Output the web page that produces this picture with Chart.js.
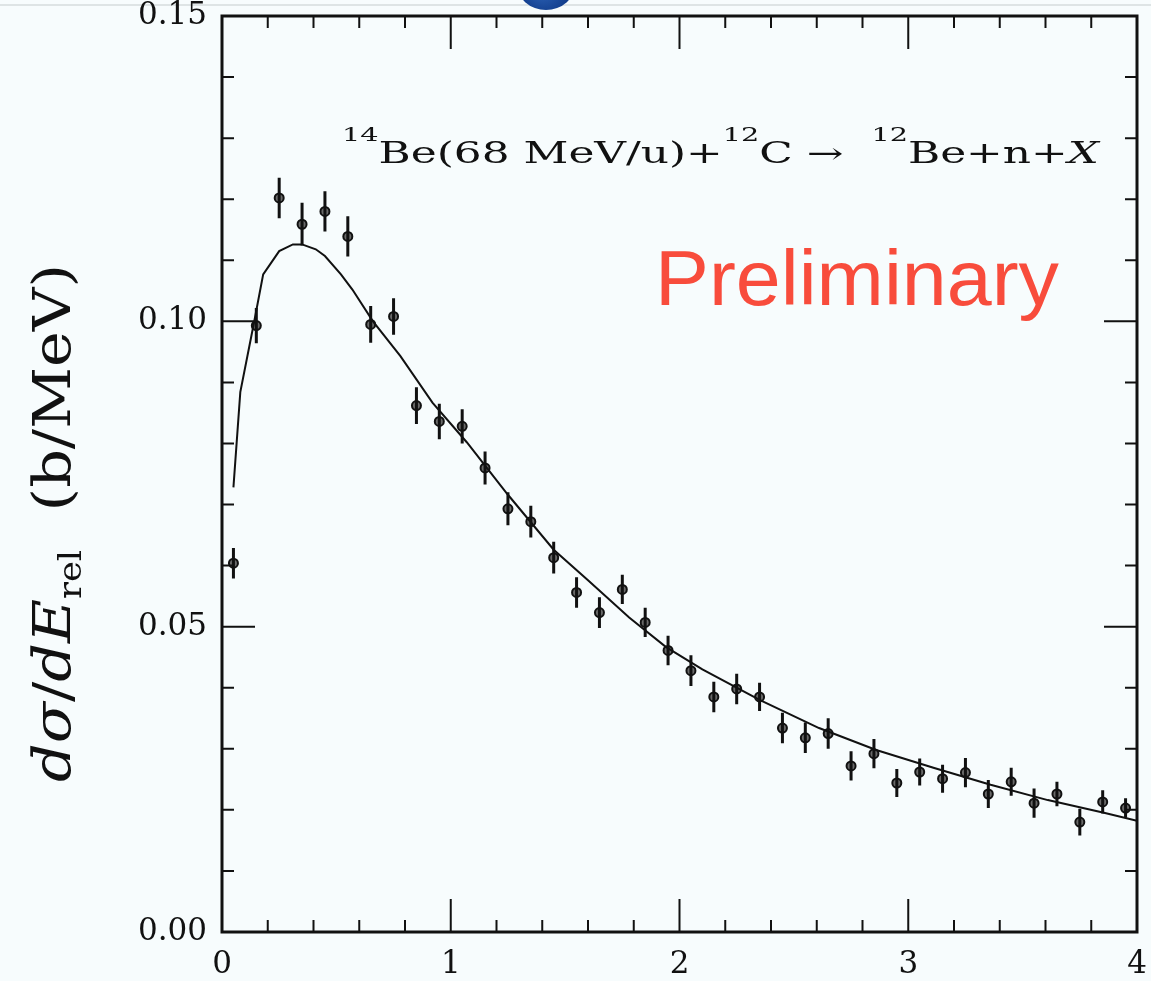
<!DOCTYPE html>
<html>
<head>
<meta charset="utf-8">
<title>14Be breakup relative energy spectrum</title>
<script src="https://cdn.jsdelivr.net/npm/chart.js@4.4.1/dist/chart.umd.min.js"></script>
<style>
  html, body { margin: 0; padding: 0; background: #f7fcfd; }
  #wrap { position: relative; width: 1151px; height: 981px; }
</style>
</head>
<body>
<div id="wrap"><canvas id="relChart"></canvas></div>
<script>
// relative energy bins (MeV)
const energy = [0.05, 0.15, 0.25, 0.35, 0.45, 0.55, 0.65, 0.75, 0.85, 0.95,
                1.05, 1.15, 1.25, 1.35, 1.45, 1.55, 1.65, 1.75, 1.85, 1.95,
                2.05, 2.15, 2.25, 2.35, 2.45, 2.55, 2.65, 2.75, 2.85, 2.95,
                3.05, 3.15, 3.25, 3.35, 3.45, 3.55, 3.65, 3.75, 3.85, 3.95];
// measured d(sigma)/dE_rel (b/MeV)
const sigma = [0.0604, 0.0993, 0.1202, 0.1159, 0.1180, 0.1139, 0.0995, 0.1008, 0.0862, 0.0836,
               0.0828, 0.0760, 0.0693, 0.0672, 0.0613, 0.0556, 0.0523, 0.0561, 0.0507, 0.0461,
               0.0428, 0.0385, 0.0398, 0.0385, 0.0334, 0.0318, 0.0325, 0.0272, 0.0292, 0.0244,
               0.0262, 0.0251, 0.0261, 0.0226, 0.0246, 0.0211, 0.0226, 0.0180, 0.0213, 0.0203];
// statistical errors (b/MeV)
const sigmaErr = [0.0025, 0.0029, 0.0033, 0.0035, 0.0033, 0.0033, 0.0030, 0.0030, 0.0030, 0.0029,
                  0.0028, 0.0027, 0.0027, 0.0026, 0.0026, 0.0025, 0.0025, 0.0024, 0.0024, 0.0024,
                  0.0025, 0.0025, 0.0025, 0.0023, 0.0025, 0.0025, 0.0025, 0.0024, 0.0024, 0.0023,
                  0.0022, 0.0023, 0.0024, 0.0023, 0.0023, 0.0024, 0.0020, 0.0022, 0.0019, 0.0016];
// calculated spectrum
const fitE = [0.05, 0.08, 0.14, 0.18, 0.25, 0.31, 0.35, 0.41, 0.45, 0.52, 0.57, 0.66, 0.78, 0.92,
              1.07, 1.25, 1.45, 1.60, 1.78, 1.94, 2.10, 2.35, 2.61, 2.86, 3.11, 3.36, 3.61, 3.86, 4.00];
const fitSigma = [0.0728, 0.0884, 0.0998, 0.1077, 0.1115, 0.1126, 0.1126, 0.1118, 0.1107, 0.1077,
                  0.1052, 0.1000, 0.0943, 0.0867, 0.0802, 0.0716, 0.0626, 0.0576, 0.0515, 0.0467,
                  0.0430, 0.0380, 0.0334, 0.0298, 0.0269, 0.0241, 0.0216, 0.0195, 0.0182];

const xTickValues = [0, 1, 2, 3, 4];
const yTickValues = [0, 0.05, 0.10, 0.15];
const xMinorStep = 0.2;
const yMinorStep = 0.01;

const ink = '#111111';
const serif = '"DejaVu Serif", serif';
const tickFont = { family: serif, size: 31 };

// lays out a run of text pieces and stretches it to the given width
function drawRun(ctx, parts, x, y, width) {
  let total = 0;
  parts.forEach(p => { ctx.font = p.font; p.w = ctx.measureText(p.t).width; total += p.w; });
  ctx.save();
  ctx.translate(x, y);
  ctx.scale(width / total, 1);
  let cx = 0;
  parts.forEach(p => {
    ctx.font = p.font;
    ctx.fillText(p.t, cx, p.dy || 0);
    cx += p.w;
  });
  ctx.restore();
}

// the scales must not shrink the plot box to make room for end labels
function noScalePadding(s) {
  s.paddingTop = 0;
  s.paddingBottom = 0;
  s.paddingLeft = 0;
  s.paddingRight = 0;
}

const backdrop = {
  id: 'backdrop',
  beforeDraw(chart) {
    const ctx = chart.ctx;
    ctx.save();
    ctx.fillStyle = '#f7fcfd';
    ctx.fillRect(0, 0, chart.width, chart.height);
    ctx.strokeStyle = '#d6dcdd';
    ctx.lineWidth = 1.5;
    ctx.beginPath();
    ctx.moveTo(0, 5);
    ctx.lineTo(chart.width, 5);
    ctx.stroke();
    const g = ctx.createRadialGradient(540, -14, 4, 546, -10, 30);
    g.addColorStop(0, '#2e64b8');
    g.addColorStop(1, '#0b3582');
    ctx.fillStyle = g;
    ctx.beginPath();
    ctx.ellipse(546, -16, 29, 26, 0, 0, Math.PI * 2);
    ctx.fill();
    ctx.restore();
  }
};

const errorBars = {
  id: 'errorBars',
  afterDatasetsDraw(chart) {
    const { ctx, scales: { x, y } } = chart;
    ctx.save();
    ctx.strokeStyle = ink;
    ctx.lineWidth = 3;
    ctx.beginPath();
    energy.forEach((e, i) => {
      const px = x.getPixelForValue(e);
      ctx.moveTo(px, y.getPixelForValue(sigma[i] - sigmaErr[i]));
      ctx.lineTo(px, y.getPixelForValue(sigma[i] + sigmaErr[i]));
    });
    ctx.stroke();
    ctx.restore();
  }
};

const frame = {
  id: 'frame',
  afterDraw(chart) {
    const { ctx, chartArea: a, scales: { x, y } } = chart;
    ctx.save();
    ctx.strokeStyle = ink;
    ctx.lineWidth = 2;
    ctx.beginPath();
    const nx = Math.round((x.max - x.min) / xMinorStep);
    for (let i = 0; i <= nx; i++) {
      const px = x.getPixelForValue(x.min + i * xMinorStep);
      const len = i % 5 === 0 ? 33 : 12;
      ctx.moveTo(px, a.bottom); ctx.lineTo(px, a.bottom - len);
      ctx.moveTo(px, a.top); ctx.lineTo(px, a.top + len);
    }
    const ny = Math.round((y.max - y.min) / yMinorStep);
    for (let i = 0; i <= ny; i++) {
      const py = y.getPixelForValue(y.min + i * yMinorStep);
      const len = i % 5 === 0 ? 33 : 12;
      ctx.moveTo(a.left, py); ctx.lineTo(a.left + len, py);
      ctx.moveTo(a.right, py); ctx.lineTo(a.right - len, py);
    }
    ctx.stroke();
    ctx.lineWidth = 3;
    ctx.strokeRect(a.left, a.top, a.right - a.left, a.bottom - a.top);

    // reaction label
    ctx.fillStyle = ink;
    ctx.textBaseline = 'alphabetic';
    const big = '29px ' + serif;
    const sup = '19px ' + serif;
    drawRun(ctx, [
      { t: '14', font: sup, dy: -22 },
      { t: 'Be(68 MeV/u)+', font: big },
      { t: '12', font: sup, dy: -22 },
      { t: 'C \u2192  ', font: big },
      { t: '12', font: sup, dy: -22 },
      { t: 'Be+n+', font: big },
      { t: 'X', font: 'italic ' + big }
    ], 342, 163, 757);

    ctx.fillStyle = '#f84c3c';
    drawRun(ctx, [{ t: 'Preliminary', font: '77px "Liberation Sans", sans-serif' }], 655, 305, 404);

    // y axis title, rotated
    ctx.fillStyle = ink;
    ctx.save();
    ctx.translate(70, 782);
    ctx.rotate(-Math.PI / 2);
    const it = 'italic 53px ' + serif;
    const up = '53px ' + serif;
    drawRun(ctx, [
      { t: 'd', font: it },
      { t: '\u03c3', font: it },
      { t: '/', font: up },
      { t: 'd', font: it },
      { t: 'E', font: it },
      { t: 'rel', font: '31px ' + serif, dy: 11 },
      { t: '  (b/MeV)', font: up }
    ], 0, 0, 518);
    ctx.restore();
    ctx.restore();
  }
};

const ctx = document.getElementById('relChart').getContext('2d');
new Chart(ctx, {
  data: {
    datasets: [
      {
        type: 'line',
        label: 'calculation',
        data: fitE.map((e, i) => ({ x: e, y: fitSigma[i] })),
        borderColor: ink,
        borderWidth: 2,
        pointRadius: 0,
        tension: 0,
        fill: false
      },
      {
        type: 'scatter',
        label: 'data',
        data: energy.map((e, i) => ({ x: e, y: sigma[i] })),
        pointRadius: 4.5,
        pointBorderWidth: 2,
        pointBorderColor: ink,
        pointBackgroundColor: '#6a6a6a'
      }
    ]
  },
  options: {
    responsive: true,
    maintainAspectRatio: false,
    animation: false,
    layout: { padding: { left: 0, top: 16, right: 14, bottom: 0 } },
    plugins: { legend: { display: false }, tooltip: { enabled: false } },
    scales: {
      x: {
        type: 'linear',
        min: 0,
        max: 4,
        afterBuildTicks: s => { s.ticks = xTickValues.map(v => ({ value: v })); },
        afterFit: s => { s.height = 49; noScalePadding(s); },
        grid: { display: false, drawTicks: false },
        border: { display: false },
        ticks: { color: ink, font: tickFont, padding: 14, maxRotation: 0,
                 callback: v => String(v) }
      },
      y: {
        type: 'linear',
        min: 0,
        max: 0.15,
        afterBuildTicks: s => { s.ticks = yTickValues.map(v => ({ value: v })); },
        afterFit: s => { s.width = 222; noScalePadding(s); },
        grid: { display: false, drawTicks: false },
        border: { display: false },
        ticks: { color: ink, font: tickFont, padding: 15,
                 callback: v => v.toFixed(2) }
      }
    }
  },
  plugins: [backdrop, errorBars, frame]
});
</script>
</body>
</html>
